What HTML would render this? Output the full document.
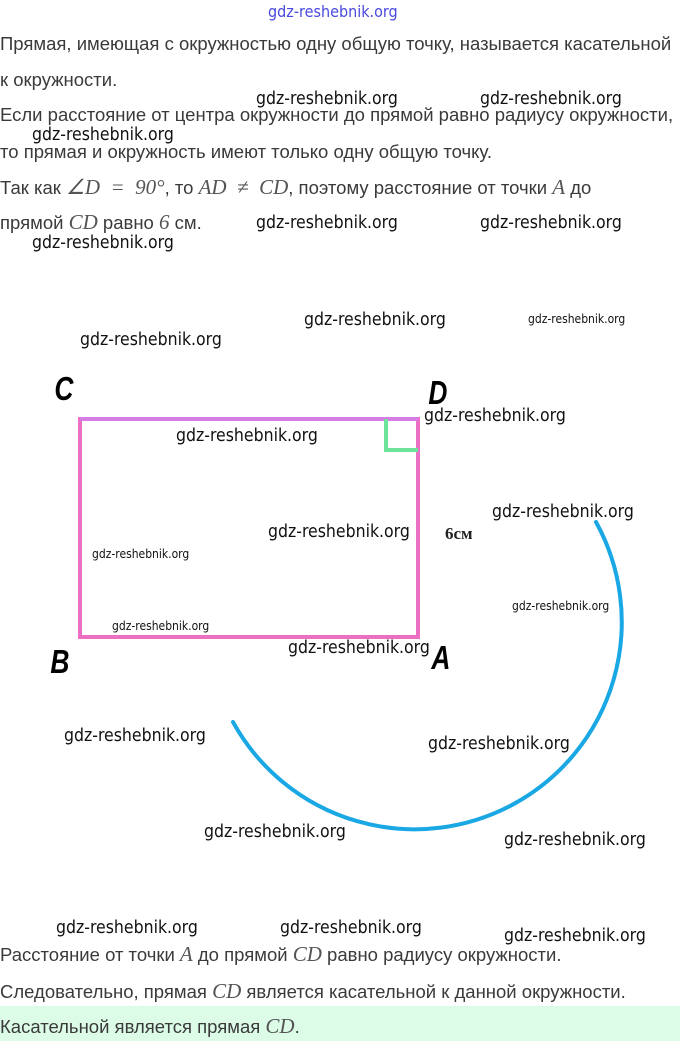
<!DOCTYPE html>
<html><head><meta charset="utf-8"><style>
html,body{margin:0;padding:0;background:#fff;}
body{width:680px;height:1041px;position:relative;overflow:hidden;font-family:"Liberation Sans","DejaVu Sans",sans-serif;color:#333;}
.t{position:absolute;left:0;font-size:18.5px;white-space:nowrap;color:#3a3a3a;}
.m{font-family:"Liberation Serif",serif;font-style:italic;font-size:21px;color:#555;}
.w{position:absolute;font-family:"DejaVu Sans Condensed","Liberation Sans",sans-serif;font-size:17.5px;color:#111;white-space:nowrap;}
.ws{font-size:12px;}
.L{position:absolute;font-family:"Liberation Sans",sans-serif;font-weight:bold;font-style:italic;font-size:33px;color:#000;transform:scaleX(0.8);}
</style></head><body>
<div class="w" style="left:268px;top:2px;color:#4a4ae0;font-size:16px;">gdz-reshebnik.org</div>
<div class="t" style="top:33px;">Прямая, имеющая с окружностью одну общую точку, называется касательной</div>
<div class="t" style="top:69px;">к окружности.</div>
<div class="t" style="top:104px;">Если расстояние от центра окружности до прямой равно радиусу окружности,</div>
<div class="t" style="top:141px;">то прямая и окружность имеют только одну общую точку.</div>
<div class="t" style="top:175px;">Так как <span class="m">∠D &nbsp;= &nbsp;90°</span>, то <span class="m">AD &nbsp;≠ &nbsp;CD</span>, поэтому расстояние от точки <span class="m">A</span> до</div>
<div class="t" style="top:210px;">прямой <span class="m">CD</span> равно <span class="m">6</span> см.</div>
<div class="w" style="left:256px;top:89px;">gdz-reshebnik.org</div>
<div class="w" style="left:480px;top:89px;">gdz-reshebnik.org</div>
<div class="w" style="left:32px;top:125px;">gdz-reshebnik.org</div>
<div class="w" style="left:256px;top:213px;">gdz-reshebnik.org</div>
<div class="w" style="left:480px;top:213px;">gdz-reshebnik.org</div>
<div class="w" style="left:32px;top:233px;">gdz-reshebnik.org</div>

<svg style="position:absolute;left:0;top:0" width="680" height="1041">
<rect x="80" y="419" width="338" height="218" fill="none" stroke="#ec6fc4" stroke-width="4"/>
<line x1="80" y1="419" x2="418" y2="419" stroke="#d77ee6" stroke-width="4"/>
<polyline points="386,419 386,450 418,450" fill="none" stroke="#6ee39a" stroke-width="4"/>
<path d="M596,522 A207,207 0 1 1 233,722" fill="none" stroke="#1aa8e4" stroke-width="4" stroke-linecap="round"/>
</svg>
<div class="L" style="left:52px;top:370px;">C</div>
<div class="L" style="left:426px;top:374px;">D</div>
<div class="L" style="left:48px;top:643px;">B</div>
<div class="L" style="left:429px;top:639px;">A</div>
<div style="position:absolute;left:445px;top:524px;font-family:'Liberation Serif',serif;font-weight:bold;font-size:17px;color:#222;">6см</div>

<div class="w" style="left:304px;top:310px;">gdz-reshebnik.org</div>
<div class="w ws" style="left:528px;top:312px;">gdz-reshebnik.org</div>
<div class="w" style="left:80px;top:330px;">gdz-reshebnik.org</div>
<div class="w" style="left:424px;top:406px;">gdz-reshebnik.org</div>
<div class="w" style="left:176px;top:426px;">gdz-reshebnik.org</div>
<div class="w" style="left:268px;top:522px;">gdz-reshebnik.org</div>
<div class="w" style="left:492px;top:502px;">gdz-reshebnik.org</div>
<div class="w ws" style="left:92px;top:547px;">gdz-reshebnik.org</div>
<div class="w ws" style="left:512px;top:599px;">gdz-reshebnik.org</div>
<div class="w ws" style="left:112px;top:619px;">gdz-reshebnik.org</div>
<div class="w" style="left:288px;top:638px;">gdz-reshebnik.org</div>
<div class="w" style="left:64px;top:726px;">gdz-reshebnik.org</div>
<div class="w" style="left:428px;top:734px;">gdz-reshebnik.org</div>
<div class="w" style="left:204px;top:822px;">gdz-reshebnik.org</div>
<div class="w" style="left:504px;top:830px;">gdz-reshebnik.org</div>
<div class="w" style="left:56px;top:918px;">gdz-reshebnik.org</div>
<div class="w" style="left:280px;top:918px;">gdz-reshebnik.org</div>
<div class="w" style="left:504px;top:926px;">gdz-reshebnik.org</div>

<div class="t" style="top:942px;">Расстояние от точки <span class="m">A</span> до прямой <span class="m">CD</span> равно радиусу окружности.</div>
<div class="t" style="top:979px;">Следовательно, прямая <span class="m">CD</span> является касательной к данной окружности.</div>
<div style="position:absolute;left:0;top:1006px;width:680px;height:35px;background:#dcfce8;"></div>
<div class="t" style="top:1014px;">Касательной является прямая <span class="m">CD</span>.</div>
</body></html>
